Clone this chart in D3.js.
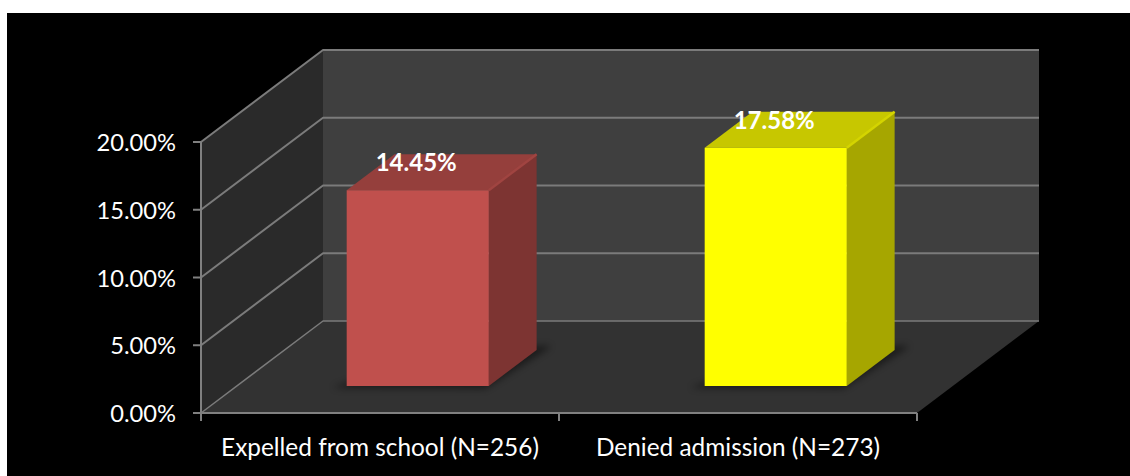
<!DOCTYPE html>
<html><head><meta charset="utf-8">
<script src="https://cdn.jsdelivr.net/npm/d3@7/dist/d3.min.js"></script>
<style>html,body{margin:0;padding:0;background:#fff}svg{display:block}text{font-family:Lato,"Open Sans",sans-serif}</style>
</head><body><div id="chart"></div>
<script>
const categories = ["Expelled from school (N=256)", "Denied admission (N=273)"];
const values = [14.45, 17.58];
const valueLabels = ["14.45%", "17.58%"];
const yTicks = [0, 5, 10, 15, 20];
const yTickLabels = ["0.00%", "5.00%", "10.00%", "15.00%", "20.00%"];
const frontColors = ["#c0504d", "#ffff00"];
const sideColors = ["#7d3432", "#a6a600"];
const topColors = ["#953f3c", "#c7c700"];
const edgeColors = ["#a04441", "#d4d400"];

const W = 1130, H = 476;
const svg = d3.select("#chart").append("svg").attr("width", W).attr("height", H);
const defs = svg.append("defs");
defs.append("filter").attr("id", "soft").attr("x", "-30%").attr("y", "-30%").attr("width", "160%").attr("height", "160%")
  .append("feGaussianBlur").attr("stdDeviation", 3.5);

svg.append("rect").attr("x", 7).attr("y", 13).attr("width", W - 7).attr("height", H - 13).attr("fill", "#000");

const x = d3.scaleBand().domain(categories).range([203, 919]).paddingInner(0.603).paddingOuter(0.3015);
const xCat = d3.scaleBand().domain(categories).range([201, 917]);
const y = d3.scaleLinear().domain([0, 20]).range([413, 142]);
const depth = d3.scaleLinear().domain([0, 1]).range([0, 122]);
const lift = d3.scaleLinear().domain([0, 1]).range([0, 92]);
const P = (px, v, d) => [px + depth(d), y(v) - lift(d)];
const poly = pts => "M" + pts.map(p => p.join(",")).join("L") + "Z";
const xL = xCat.range()[0], xR = xCat.range()[1];
const grid = "#7b7b7b";

// walls and floor
svg.append("path").attr("d", poly([P(xL,0,1), P(xR,0,1), P(xR,20,1), P(xL,20,1)])).attr("fill", "#3f3f3f");
svg.append("path").attr("d", poly([P(xL,0,0), P(xL,0,1), P(xL,20,1), P(xL,20,0)])).attr("fill", "#2a2a2a");
svg.append("path").attr("d", poly([P(xL,0,0), P(xR,0,0), P(xR,0,1), P(xL,0,1)])).attr("fill", "#323232");

// gridlines
yTicks.forEach(t => {
  const a = P(xL,t,0), b = P(xL,t,1), c = P(xR,t,1);
  svg.append("path").attr("d", `M${a}L${b}L${c}`).attr("fill", "none").attr("stroke", grid).attr("stroke-width", t === 0 ? 1.5 : 2)
    .attr("stroke-linejoin", "round");
});

// axes
const ax = svg.append("g").attr("stroke", "#808080").attr("stroke-width", 2).attr("fill", "none");
ax.append("path").attr("d", `M${P(xL,20,0)}L${P(xL,0,0)}L${P(xR,0,0)}`);
yTicks.forEach(t => ax.append("line").attr("x1", xL - 8).attr("x2", xL).attr("y1", y(t)).attr("y2", y(t)));
[xL, xL + xCat.bandwidth(), xR].forEach(v => ax.append("line").attr("x1", v).attr("x2", v).attr("y1", y(0)).attr("y2", y(0) + 8));

svg.selectAll("text.ytick").data(yTicks).join("text").attr("class", "ytick")
  .attr("x", 176).attr("y", d => y(d) + 9).attr("text-anchor", "end").attr("fill", "#fff")
  .attr("font-size", 23.7).text((d, i) => yTickLabels[i]);
svg.selectAll("text.xtick").data(categories).join("text").attr("class", "xtick")
  .attr("x", d => xCat(d) + xCat.bandwidth() / 2).attr("y", 456).attr("text-anchor", "middle").attr("fill", "#fff")
  .attr("font-size", 24.4).text(d => d);

// bars
const d0 = 0.293, d1 = 0.685;
categories.forEach((c, i) => {
  const a = x(c), b = a + x.bandwidth(), v = values[i];
  const g = svg.append("g");
  g.append("path").attr("d", poly([P(a - 12,0,d0 - 0.02), P(b,0,d0 - 0.03), P(b + 10,0,d1 + 0.01), P(b + 8,0,d1 + 0.05), P(a + 40,0,d1)]))
    .attr("fill", "#000").attr("opacity", 0.45).attr("filter", "url(#soft)");
  g.append("path").attr("d", poly([P(b,0,d0), P(b,0,d1), P(b,v,d1), P(b,v,d0)])).attr("fill", sideColors[i]);
  g.append("path").attr("d", poly([P(a,v,d0), P(b,v,d0), P(b,v,d1), P(a,v,d1)])).attr("fill", topColors[i]);
  g.append("path").attr("d", `M${P(b,v,d0)}L${P(b,v,d1)}`).attr("stroke", edgeColors[i]).attr("stroke-width", 2.5);
  g.append("path").attr("d", poly([P(a,0,d0), P(b,0,d0), P(b,v,d0), P(a,v,d0)])).attr("fill", frontColors[i]);
  const t = P((a + b) / 2, v, d0);
  svg.append("text").attr("x", t[0] - 1.5).attr("y", t[1] - 19).attr("text-anchor", "middle").attr("fill", "#fff")
    .attr("font-weight", 700).attr("font-size", 24).text(valueLabels[i]);
});
</script></body></html>
